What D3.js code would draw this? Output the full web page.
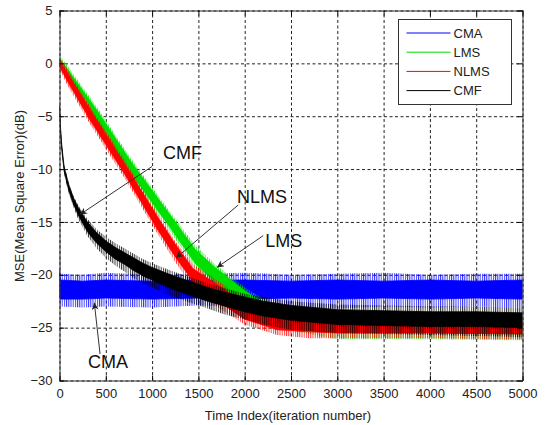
<!DOCTYPE html>
<html>
<head>
<meta charset="utf-8">
<script src="https://cdn.jsdelivr.net/npm/d3@7"></script>
<style>
  body { margin: 0; background: #fff; }
  svg { font-family: Arial, "Liberation Sans", sans-serif; }
</style>
</head>
<body>
<div id="chart"></div>
<script>
// rows: [iteration, spikeHigh, coreHigh, coreLow, spikeLow] in dB
const cma = [
  [0, -15.4, -19.6, -22.2, -22.8],
  [10, -19.9, -20.5, -22.3, -23.0],
  [250, -20.0, -20.6, -22.3, -23.1],
  [500, -19.8, -20.5, -22.2, -23.0],
  [1000, -20.0, -20.6, -22.3, -23.1],
  [1500, -19.9, -20.5, -22.2, -22.9],
  [2000, -19.8, -20.5, -22.3, -23.0],
  [2500, -20.0, -20.6, -22.2, -23.1],
  [3000, -19.9, -20.5, -22.3, -23.2],
  [3500, -19.8, -20.6, -22.2, -23.0],
  [4000, -20.0, -20.5, -22.3, -23.1],
  [4500, -19.9, -20.6, -22.2, -23.0],
  [5000, -19.9, -20.5, -22.3, -23.1]
];

const lms = [
  [0, 0.8, 0.5, -0.2, -0.5],
  [100, -0.4, -0.7, -1.4, -1.8],
  [410, -4.2, -4.5, -5.5, -5.9],
  [780, -9.1, -9.4, -10.5, -10.9],
  [1200, -14.1, -14.4, -15.6, -16.0],
  [1465, -17.2, -17.6, -18.9, -19.3],
  [1680, -19.0, -19.3, -20.7, -21.1],
  [2000, -21.2, -21.5, -22.7, -23.2],
  [2200, -22.3, -22.6, -23.6, -24.1],
  [2500, -23.3, -23.7, -24.7, -25.3],
  [3000, -23.9, -24.3, -25.5, -26.1],
  [4000, -24.0, -24.4, -25.5, -26.1],
  [5000, -24.0, -24.4, -25.6, -26.2]
];

const nlms = [
  [0, 0.6, 0.3, -0.3, -0.6],
  [100, -0.8, -1.1, -1.9, -2.3],
  [340, -4.2, -4.5, -5.5, -5.9],
  [705, -9.2, -9.5, -10.5, -10.9],
  [1050, -14.1, -14.4, -15.6, -16.0],
  [1250, -16.8, -17.1, -18.3, -18.8],
  [1440, -19.0, -19.4, -20.6, -21.2],
  [1680, -20.4, -20.8, -22.3, -22.9],
  [2000, -22.3, -22.7, -24.2, -24.7],
  [2350, -23.6, -24.0, -25.2, -25.7],
  [2700, -23.9, -24.3, -25.4, -26.0],
  [3000, -24.0, -24.4, -25.5, -26.0],
  [4000, -24.0, -24.4, -25.5, -26.0],
  [5000, -24.1, -24.5, -25.6, -26.1]
];

const cmf = [
  [0, -4.0, -4.0, -4.3, -4.5],
  [10, -5.8, -6.0, -6.3, -6.5],
  [25, -7.6, -7.8, -8.2, -8.4],
  [50, -9.6, -9.8, -10.2, -10.5],
  [100, -11.3, -11.5, -12.0, -12.3],
  [150, -12.5, -12.7, -13.3, -13.6],
  [200, -13.4, -13.6, -14.3, -14.7],
  [300, -14.7, -15.0, -15.9, -16.3],
  [400, -15.7, -16.0, -17.0, -17.5],
  [500, -16.4, -16.8, -17.8, -18.4],
  [600, -17.0, -17.4, -18.5, -19.1],
  [700, -17.5, -17.9, -19.0, -19.7],
  [800, -18.0, -18.4, -19.6, -20.3],
  [900, -18.5, -18.9, -20.1, -20.8],
  [1000, -18.9, -19.3, -20.5, -21.2],
  [1200, -19.6, -20.0, -21.3, -22.0],
  [1400, -20.2, -20.6, -21.9, -22.6],
  [1600, -20.8, -21.2, -22.5, -23.2],
  [1800, -21.3, -21.7, -23.0, -23.8],
  [2000, -21.8, -22.1, -23.5, -24.2],
  [2200, -22.1, -22.5, -23.9, -24.7],
  [2500, -22.5, -22.9, -24.3, -25.2],
  [3000, -22.8, -23.3, -24.7, -25.5],
  [3500, -22.9, -23.4, -24.8, -25.6],
  [4000, -23.0, -23.5, -24.9, -25.7],
  [4500, -23.0, -23.5, -24.9, -25.8],
  [5000, -23.1, -23.6, -25.0, -25.9]
];

const seriesNames = ["CMA", "LMS", "NLMS", "CMF"];
const seriesColors = ["#0000ff", "#00e000", "#ff0000", "#000000"];
const seriesData = [cma, lms, nlms, cmf];

const xTicks = [0, 500, 1000, 1500, 2000, 2500, 3000, 3500, 4000, 4500, 5000];
const yTicks = [5, 0, -5, -10, -15, -20, -25, -30];

// text label, label position [iter, dB], arrow from [iter, dB] to [iter, dB]
const notes = [
  { text: "CMF", at: [1119, -8.45], from: [1000, -9.75], to: [222, -14.3] },
  { text: "NLMS", at: [1916, -12.6], from: [1930, -13.4], to: [1260, -18.4] },
  { text: "LMS", at: [2222, -16.75], from: [2200, -16.3], to: [1700, -19.3] },
  { text: "CMA", at: [308, -28.2], from: [438, -27.5], to: [376, -22.65] }
];

const margin = { top: 10.5, left: 59.5 },
      width = 463,
      height = 370;

const svg = d3.select("#chart")
  .append("svg")
  .attr("width", 549)
  .attr("height", 425);

const defs = svg.append("defs");

// comb pattern per series for the noisy spike fringe
seriesColors.forEach((c, i) => {
  const p = defs.append("pattern")
    .attr("id", "comb" + i)
    .attr("patternUnits", "userSpaceOnUse")
    .attr("width", 2.2)
    .attr("height", 10);
  p.append("rect")
    .attr("width", 1)
    .attr("height", 10)
    .attr("fill", c);
});

const g = svg.append("g")
  .attr("transform", `translate(${margin.left},${margin.top})`);

const x = d3.scaleLinear().domain([0, 5000]).range([0, width]);
const y = d3.scaleLinear().domain([-30, 5]).range([height, 0]);

g.append("rect")
  .attr("width", width)
  .attr("height", height)
  .attr("fill", "#fff");

// dotted grid
g.append("g")
  .attr("transform", `translate(0,${height})`)
  .call(d3.axisBottom(x).tickValues(xTicks).tickSize(-height).tickFormat(""))
  .call(a => a.select(".domain").remove())
  .call(a => a.selectAll("line").attr("stroke", "#222").attr("stroke-dasharray", "3,2.5"));

g.append("g")
  .call(d3.axisLeft(y).tickValues(yTicks).tickSize(-width).tickFormat(""))
  .call(a => a.select(".domain").remove())
  .call(a => a.selectAll("line").attr("stroke", "#222").attr("stroke-dasharray", "3,2.5"));

g.append("clipPath").attr("id", "clip")
  .append("rect").attr("width", width).attr("height", height);

const plot = g.append("g").attr("clip-path", "url(#clip)");

const spikeArea = d3.area()
  .x(d => x(d[0]))
  .y0(d => y(d[4]))
  .y1(d => y(d[1]));

const coreArea = d3.area()
  .x(d => x(d[0]))
  .y0(d => y(d[3]))
  .y1(d => y(d[2]));

seriesData.forEach((rows, i) => {
  plot.append("path")
    .attr("d", spikeArea(rows))
    .attr("fill", `url(#comb${i})`)
    .attr("fill-opacity", 0.8);
  plot.append("path")
    .attr("d", coreArea(rows))
    .attr("fill", seriesColors[i])
    .attr("stroke", seriesColors[i])
    .attr("stroke-width", 0.8);
});

// axes with inward ticks on all four sides
const fmt = d3.format("d");
g.append("g")
  .attr("transform", `translate(0,${height})`)
  .call(d3.axisBottom(x).tickValues(xTicks).tickSize(-5).tickPadding(8).tickFormat(fmt));
g.append("g")
  .call(d3.axisTop(x).tickValues(xTicks).tickSize(-5).tickFormat(""));
g.append("g")
  .call(d3.axisLeft(y).tickValues(yTicks).tickSize(-5).tickPadding(7).tickFormat(fmt));
g.append("g")
  .attr("transform", `translate(${width},0)`)
  .call(d3.axisRight(y).tickValues(yTicks).tickSize(-5).tickFormat(""));

g.selectAll(".domain").attr("stroke", "#333");
g.selectAll(".tick text")
  .attr("fill", "#222")
  .style("font-size", "13px")
  .style("font-family", "Arial, 'Liberation Sans', sans-serif");

// axis titles
svg.append("text")
  .attr("x", 288)
  .attr("y", 420)
  .attr("text-anchor", "middle")
  .attr("fill", "#222")
  .style("font-size", "13px")
  .text("Time Index(iteration number)");

svg.append("text")
  .attr("transform", "rotate(-90)")
  .attr("x", -196)
  .attr("y", 24)
  .attr("text-anchor", "middle")
  .attr("fill", "#222")
  .style("font-size", "13px")
  .text("MSE(Mean Square Error)(dB)");

// annotations
defs.append("marker")
  .attr("id", "head")
  .attr("viewBox", "0 0 10 10")
  .attr("refX", 10)
  .attr("refY", 5)
  .attr("markerWidth", 9)
  .attr("markerHeight", 7)
  .attr("markerUnits", "userSpaceOnUse")
  .attr("orient", "auto")
  .append("path")
  .attr("d", "M0,0 L10,5 L0,10 L3,5 Z")
  .attr("fill", "#222");

notes.forEach(n => {
  g.append("line")
    .attr("x1", x(n.from[0]))
    .attr("y1", y(n.from[1]))
    .attr("x2", x(n.to[0]))
    .attr("y2", y(n.to[1]))
    .attr("stroke", "#333")
    .attr("stroke-width", 1)
    .attr("marker-end", "url(#head)");
  g.append("text")
    .attr("x", x(n.at[0]))
    .attr("y", y(n.at[1]))
    .attr("dy", "0.35em")
    .attr("fill", "#111")
    .style("font-size", "18px")
    .text(n.text);
});

// legend
const legend = svg.append("g").attr("transform", "translate(398.5,19.5)");
legend.append("rect")
  .attr("width", 113)
  .attr("height", 85)
  .attr("fill", "#fff")
  .attr("stroke", "#333");

const rows = legend.selectAll(".row")
  .data(seriesNames)
  .enter()
  .append("g")
  .attr("transform", (d, i) => `translate(0,${13.5 + i * 19.2})`);

rows.append("line")
  .attr("x1", 8)
  .attr("x2", 52)
  .attr("stroke", (d, i) => seriesColors[i])
  .attr("stroke-width", 1);

rows.append("text")
  .attr("x", 55)
  .attr("dy", "0.35em")
  .attr("fill", "#222")
  .style("font-size", "13px")
  .text(d => d);
</script>
</body>
</html>
